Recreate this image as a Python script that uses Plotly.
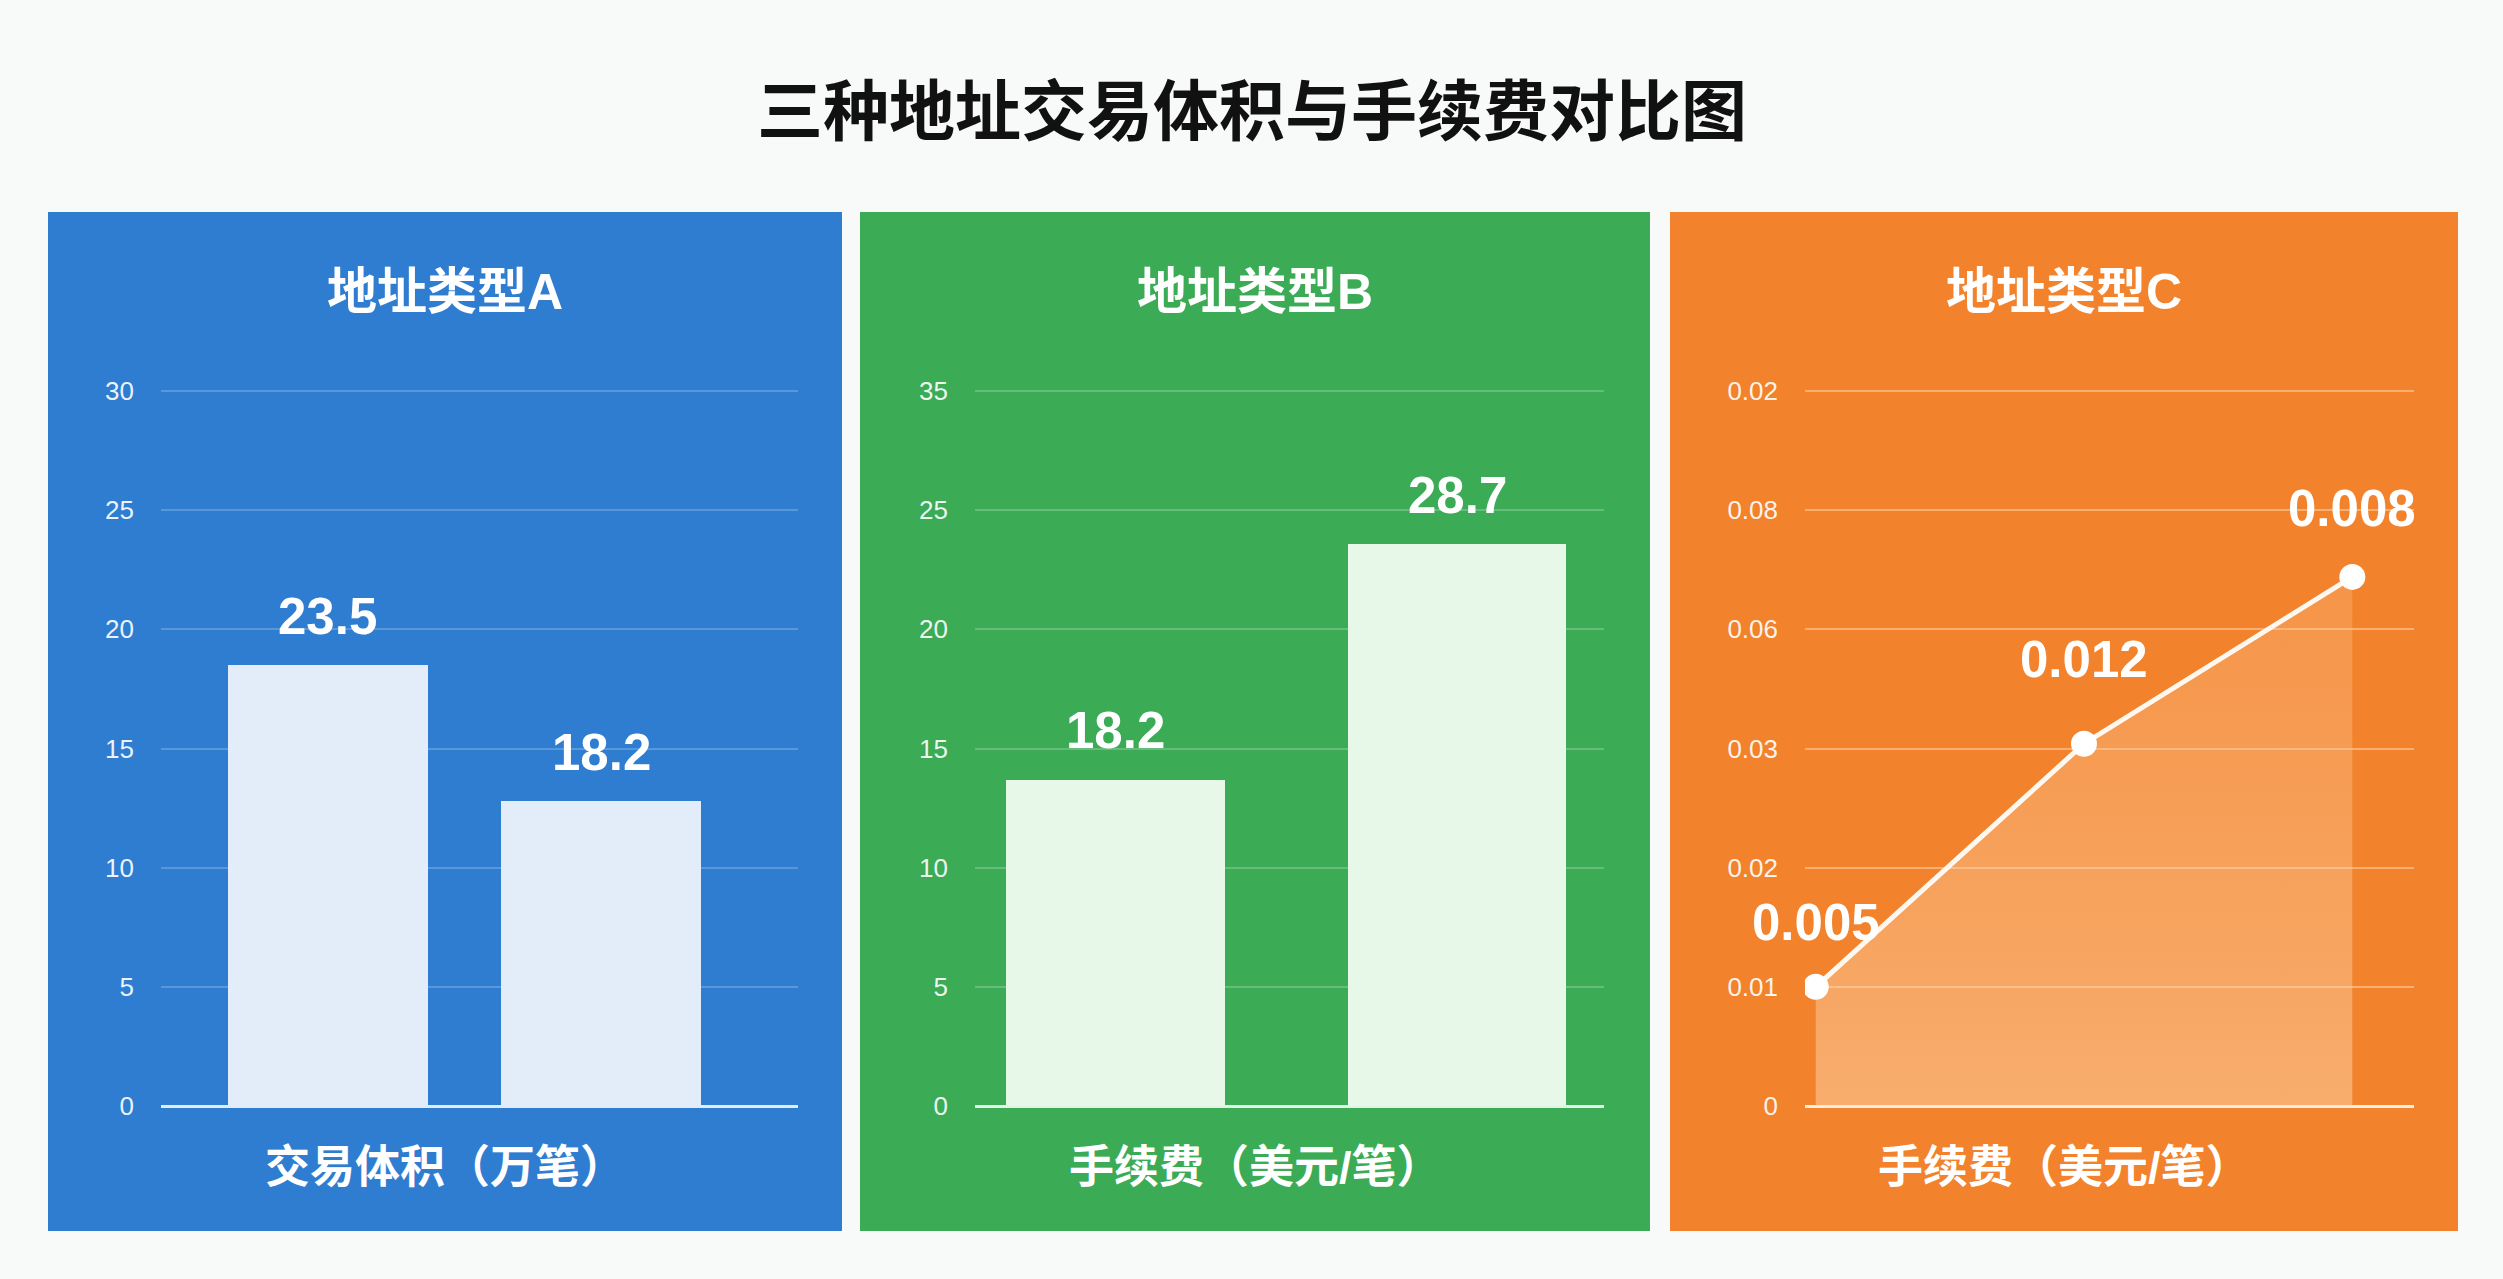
import plotly.graph_objects as go

# ---------------- data ----------------
title_text = "三种地址交易体积与手续费对比图"
panel_titles = ["地址类型A", "地址类型B", "地址类型C"]
axis_titles = ["交易体积（万笔）", "手续费（美元/笔）", "手续费（美元/笔）"]

# Panel A (bars)
a_categories = ["项目1", "项目2"]
a_values = [18.5, 12.8]            # bar heights as drawn
a_labels = ["23.5", "18.2"]        # value labels as printed
a_tickvals = [0, 5, 10, 15, 20, 25, 30]
a_ticktext = ["0", "5", "10", "15", "20", "25", "30"]

# Panel B (bars)
b_categories = ["项目1", "项目2"]
b_values = [13.7, 23.6]
b_labels = ["18.2", "28.7"]
b_tickvals = [0, 5, 10, 15, 20, 25, 30]
b_ticktext = ["0", "5", "10", "15", "20", "25", "35"]

# Panel C (line)
c_categories = ["点1", "点2", "点3"]
c_values = [0.010, 0.0304, 0.0444]
c_labels = ["0.005", "0.012", "0.008"]
c_tickvals = [0, 0.01, 0.02, 0.03, 0.04, 0.05, 0.06]
c_ticktext = ["0", "0.01", "0.02", "0.03", "0.06", "0.08", "0.02"]

# ---------------- style ----------------
W, H = 2503, 1279
FONT = "Liberation Sans, Noto Sans CJK SC, sans-serif"
panel_colors = ["#2f7dd0", "#3bab56", "#f2822b"]
bar_colors = ["#e3edf9", "#e7f7e8"]
grid_colors = ["rgba(255,255,255,0.2)", "rgba(255,255,255,0.22)", "rgba(255,230,200,0.45)"]

def px_x(v):
    return v / W

def px_y(v):
    return 1 - v / H

panel_x = [(48, 842), (860, 1650), (1670, 2458)]
panel_y = (212, 1231)
plot_x = [(161, 798), (975, 1604), (1805, 2414)]
pad = 0.01                     # fraction of range added above top gridline
plot_y = (391 - (1106 - 391) * pad, 1106)

fig = go.Figure()

fig.add_trace(go.Bar(x=a_categories, y=a_values, width=0.73,
                     marker=dict(color=bar_colors[0], line=dict(width=0)),
                     xaxis="x", yaxis="y", hoverinfo="skip"))
fig.add_trace(go.Bar(x=b_categories, y=b_values, width=0.64,
                     marker=dict(color=bar_colors[1], line=dict(width=0)),
                     xaxis="x2", yaxis="y2", hoverinfo="skip"))
fig.add_trace(go.Scatter(x=c_categories, y=c_values, mode="lines+markers",
                         line=dict(color="#fff8f0", width=5),
                         marker=dict(color="#ffffff", size=26),
                         fill="tozeroy",
                         fillgradient=dict(type="vertical",
                                           colorscale=[[0, "rgba(255,225,190,0.45)"],
                                                       [1, "rgba(255,205,160,0.25)"]]),
                         xaxis="x3", yaxis="y3", hoverinfo="skip"))

annotations = []
VAL_FONT = dict(family=FONT, size=51, color="white", weight="bold")
for xa, cats, vals, labs in [("x", a_categories, a_values, a_labels),
                              ("x2", b_categories, b_values, b_labels)]:
    ya = "y" + xa[1:]
    for c, v, l in zip(cats, vals, labs):
        annotations.append(dict(x=c, y=v, xref=xa, yref=ya, text=l, showarrow=False,
                                yanchor="bottom", yshift=18, font=VAL_FONT))
c_shifts = [34, 54, 38]
for c, v, l, s in zip(c_categories, c_values, c_labels, c_shifts):
    annotations.append(dict(x=c, y=v, xref="x3", yref="y3", text=l, showarrow=False,
                            yanchor="bottom", yshift=s, font=VAL_FONT))

annotations.append(dict(x=0.5, y=px_y(112), xref="paper", yref="paper", text=title_text,
                        showarrow=False, xanchor="center", yanchor="middle",
                        font=dict(family=FONT, size=66, color="#111111", weight="bold")))
shapes = []
for i in range(3):
    x0, x1 = panel_x[i]
    shapes.append(dict(type="rect", xref="paper", yref="paper", layer="below",
                       x0=px_x(x0), x1=px_x(x1), y0=px_y(panel_y[1]), y1=px_y(panel_y[0]),
                       fillcolor=panel_colors[i], line=dict(width=0)))
    cx = px_x((x0 + x1) / 2)
    annotations.append(dict(x=cx, y=px_y(292), xref="paper", yref="paper", text=panel_titles[i],
                            showarrow=False, xanchor="center", yanchor="middle",
                            font=dict(family=FONT, size=50, color="white", weight="bold")))
    annotations.append(dict(x=cx, y=px_y(1167), xref="paper", yref="paper", text=axis_titles[i],
                            showarrow=False, xanchor="center", yanchor="middle",
                            font=dict(family=FONT, size=45, color="white", weight="bold")))

def xaxis(i, rng):
    return dict(domain=[px_x(plot_x[i][0]), px_x(plot_x[i][1])], range=rng,
                showgrid=False, showticklabels=False, zeroline=False, showline=False,
                automargin=False, fixedrange=True, anchor="y" if i == 0 else f"y{i+1}")

def yaxis(i, top, tv, tt):
    return dict(domain=[px_y(plot_y[1]), px_y(plot_y[0])], range=[0, top * (1 + pad)],
                tickvals=tv, ticktext=tt, showgrid=True, gridcolor=grid_colors[i], gridwidth=2,
                zeroline=True, zerolinecolor="rgba(255,255,255,0.85)", zerolinewidth=3,
                showline=False, ticks="", ticklabelstandoff=26, automargin=False,
                tickfont=dict(family=FONT, size=26, color="rgba(255,255,255,0.92)"),
                fixedrange=True, anchor="x" if i == 0 else f"x{i+1}")

fig.update_layout(
    width=W, height=H, autosize=False,
    margin=dict(l=0, r=0, t=0, b=0, pad=0, autoexpand=False),
    paper_bgcolor="#f8f9f9", plot_bgcolor="rgba(0,0,0,0)",
    showlegend=False,
    bargap=0,
    xaxis=xaxis(0, [-0.61, 1.72]),
    xaxis2=xaxis(1, [-0.41, 1.43]),
    xaxis3=xaxis(2, [-0.04, 2.23]),
    yaxis=yaxis(0, 30, a_tickvals, a_ticktext),
    yaxis2=yaxis(1, 30, b_tickvals, b_ticktext),
    yaxis3=yaxis(2, 0.06, c_tickvals, c_ticktext),
    shapes=shapes,
    annotations=annotations,
)

fig.write_html("out.html")
